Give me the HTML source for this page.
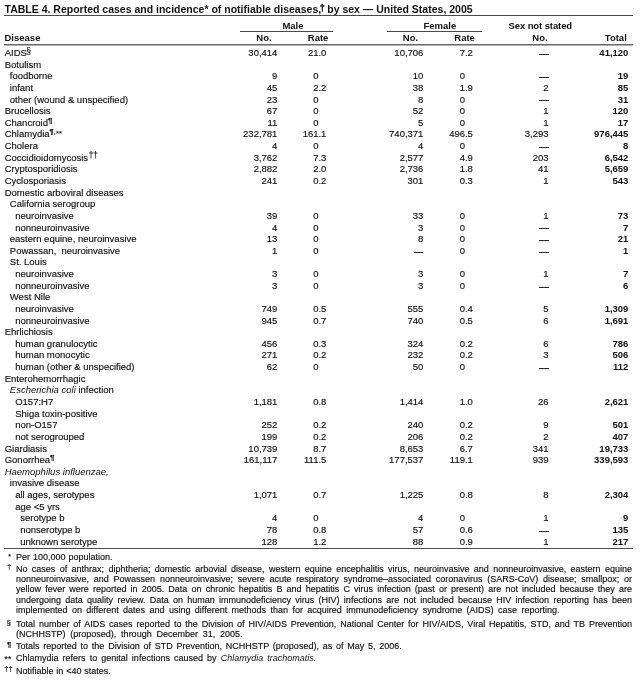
<!DOCTYPE html>
<html><head><meta charset="utf-8"><style>
html,body{margin:0;padding:0;background:#fff;}
body{width:640px;height:680px;position:relative;overflow:hidden;font-family:"Liberation Sans",sans-serif;color:#111;filter:blur(0.3px);-webkit-text-stroke:0.15px #111;}
.t{position:absolute;white-space:nowrap;font-size:9.5px;line-height:9.5px;}
.r{text-align:right;}
.b{font-weight:bold;-webkit-text-stroke:0;}
.h{position:absolute;background:#4a4a4a;height:1px;}
.h2{position:absolute;background:#b4b4b4;height:1px;}
sup{font-size:7.6px;line-height:0;vertical-align:2.9px;}
.ss{font-size:8.4px;}
.pb{font-weight:bold;font-size:8px;}
.tt sup{font-size:8.4px;vertical-align:1.9px;margin-left:-1.1px;margin-right:-0.4px;-webkit-text-stroke:0.4px #111;}
.z{visibility:hidden;}
i{-webkit-text-stroke:0;}
.d{position:absolute;width:9.6px;height:1px;background:#2a2a2a;}
.f{position:absolute;left:16px;width:616px;font-size:9px;line-height:9px;white-space:nowrap;}
.fj{text-align:justify;text-align-last:justify;white-space:normal;}
.m{position:absolute;white-space:nowrap;}
</style></head><body>

<div class="t b tt" style="left:4.5px;top:4.01px;font-size:10.5px;line-height:10.5px">TABLE 4. Reported cases and incidence* of notifiable diseases,<sup>†</sup> by sex — United States, 2005</div>
<div class="h" style="left:4px;top:15px;width:629px"></div>
<div class="t b" style="left:282.4px;top:20.71px;font-size:9.5px;line-height:9.5px">Male</div>
<div class="t b" style="left:423.5px;top:20.71px;font-size:9.5px;line-height:9.5px">Female</div>
<div class="t b" style="left:508.5px;top:20.71px;font-size:9.5px;line-height:9.5px;letter-spacing:-0.1px">Sex not stated</div>
<div class="h" style="left:239.5px;top:31px;width:93.5px"></div>
<div class="h" style="left:386.5px;top:31px;width:95px"></div>
<div class="t b" style="left:4.5px;top:32.71px;font-size:9.5px;line-height:9.5px">Disease</div>
<div class="t b" style="left:256.3px;top:32.71px;font-size:9.5px;line-height:9.5px">No.</div>
<div class="t b" style="left:307.8px;top:32.71px;font-size:9.5px;line-height:9.5px">Rate</div>
<div class="t b" style="left:402.8px;top:32.71px;font-size:9.5px;line-height:9.5px">No.</div>
<div class="t b" style="left:454.3px;top:32.71px;font-size:9.5px;line-height:9.5px">Rate</div>
<div class="t b" style="left:532.3px;top:32.71px;font-size:9.5px;line-height:9.5px">No.</div>
<div class="t b" style="left:604.8px;top:32.71px;font-size:9.5px;line-height:9.5px">Total</div>
<div class="h" style="left:4px;top:44px;width:629px;background:#666"></div>
<div class="h2" style="left:4px;top:45px;width:629px"></div>
<div class="t" style="left:4.7px;top:48.03px">AIDS<sup class="ss" style="vertical-align:1.9px;margin-left:-0.7px">§</sup></div>
<div class="t r" style="right:362.60px;top:48.03px">30,414</div>
<div class="t r" style="right:313.60px;top:48.03px">21.0</div>
<div class="t r" style="right:216.60px;top:48.03px">10,706</div>
<div class="t r" style="right:167.10px;top:48.03px">7.2</div>
<div class="d" style="left:539.00px;top:53.87px"></div>
<div class="t r b" style="right:11.60px;top:48.03px">41,120</div>
<div class="t" style="left:4.7px;top:59.66px">Botulism</div>
<div class="t" style="left:9.8px;top:71.29px">foodborne</div>
<div class="t r" style="right:362.60px;top:71.29px">9</div>
<div class="t r" style="right:313.60px;top:71.29px">0<span class="z">.0</span></div>
<div class="t r" style="right:216.60px;top:71.29px">10</div>
<div class="t r" style="right:167.10px;top:71.29px">0<span class="z">.0</span></div>
<div class="d" style="left:539.00px;top:77.14px"></div>
<div class="t r b" style="right:11.60px;top:71.29px">19</div>
<div class="t" style="left:9.8px;top:82.93px">infant</div>
<div class="t r" style="right:362.60px;top:82.93px">45</div>
<div class="t r" style="right:313.60px;top:82.93px">2.2</div>
<div class="t r" style="right:216.60px;top:82.93px">38</div>
<div class="t r" style="right:167.10px;top:82.93px">1.9</div>
<div class="t r" style="right:91.40px;top:82.93px">2</div>
<div class="t r b" style="right:11.60px;top:82.93px">85</div>
<div class="t" style="left:9.8px;top:94.56px">other (wound &amp; unspecified)</div>
<div class="t r" style="right:362.60px;top:94.56px">23</div>
<div class="t r" style="right:313.60px;top:94.56px">0<span class="z">.0</span></div>
<div class="t r" style="right:216.60px;top:94.56px">8</div>
<div class="t r" style="right:167.10px;top:94.56px">0<span class="z">.0</span></div>
<div class="d" style="left:539.00px;top:100.40px"></div>
<div class="t r b" style="right:11.60px;top:94.56px">31</div>
<div class="t" style="left:4.7px;top:106.19px">Brucellosis</div>
<div class="t r" style="right:362.60px;top:106.19px">67</div>
<div class="t r" style="right:313.60px;top:106.19px">0<span class="z">.0</span></div>
<div class="t r" style="right:216.60px;top:106.19px">52</div>
<div class="t r" style="right:167.10px;top:106.19px">0<span class="z">.0</span></div>
<div class="t r" style="right:91.40px;top:106.19px">1</div>
<div class="t r b" style="right:11.60px;top:106.19px">120</div>
<div class="t" style="left:4.7px;top:117.82px">Chancroid<sup class="pb">¶</sup></div>
<div class="t r" style="right:362.60px;top:117.82px">11</div>
<div class="t r" style="right:313.60px;top:117.82px">0<span class="z">.0</span></div>
<div class="t r" style="right:216.60px;top:117.82px">5</div>
<div class="t r" style="right:167.10px;top:117.82px">0<span class="z">.0</span></div>
<div class="t r" style="right:91.40px;top:117.82px">1</div>
<div class="t r b" style="right:11.60px;top:117.82px">17</div>
<div class="t" style="left:4.7px;top:129.46px">Chlamydia<sup><b>¶</b>,<span style="position:relative;top:1.3px">**</span></sup></div>
<div class="t r" style="right:362.60px;top:129.46px">232,781</div>
<div class="t r" style="right:313.60px;top:129.46px">161.1</div>
<div class="t r" style="right:216.60px;top:129.46px">740,371</div>
<div class="t r" style="right:167.10px;top:129.46px">496.5</div>
<div class="t r" style="right:91.40px;top:129.46px">3,293</div>
<div class="t r b" style="right:11.60px;top:129.46px">976,445</div>
<div class="t" style="left:4.7px;top:141.09px">Cholera</div>
<div class="t r" style="right:362.60px;top:141.09px">4</div>
<div class="t r" style="right:313.60px;top:141.09px">0<span class="z">.0</span></div>
<div class="t r" style="right:216.60px;top:141.09px">4</div>
<div class="t r" style="right:167.10px;top:141.09px">0<span class="z">.0</span></div>
<div class="d" style="left:539.00px;top:146.93px"></div>
<div class="t r b" style="right:11.60px;top:141.09px">8</div>
<div class="t" style="left:4.7px;top:152.72px">Coccidioidomycosis<sup style="font-size:8.2px;margin-left:0.7px">††</sup></div>
<div class="t r" style="right:362.60px;top:152.72px">3,762</div>
<div class="t r" style="right:313.60px;top:152.72px">7.3</div>
<div class="t r" style="right:216.60px;top:152.72px">2,577</div>
<div class="t r" style="right:167.10px;top:152.72px">4.9</div>
<div class="t r" style="right:91.40px;top:152.72px">203</div>
<div class="t r b" style="right:11.60px;top:152.72px">6,542</div>
<div class="t" style="left:4.7px;top:164.35px">Cryptosporidiosis</div>
<div class="t r" style="right:362.60px;top:164.35px">2,882</div>
<div class="t r" style="right:313.60px;top:164.35px">2.0</div>
<div class="t r" style="right:216.60px;top:164.35px">2,736</div>
<div class="t r" style="right:167.10px;top:164.35px">1.8</div>
<div class="t r" style="right:91.40px;top:164.35px">41</div>
<div class="t r b" style="right:11.60px;top:164.35px">5,659</div>
<div class="t" style="left:4.7px;top:175.99px">Cyclosporiasis</div>
<div class="t r" style="right:362.60px;top:175.99px">241</div>
<div class="t r" style="right:313.60px;top:175.99px">0.2</div>
<div class="t r" style="right:216.60px;top:175.99px">301</div>
<div class="t r" style="right:167.10px;top:175.99px">0.3</div>
<div class="t r" style="right:91.40px;top:175.99px">1</div>
<div class="t r b" style="right:11.60px;top:175.99px">543</div>
<div class="t" style="left:4.7px;top:187.62px">Domestic arboviral diseases</div>
<div class="t" style="left:9.8px;top:199.25px">California serogroup</div>
<div class="t" style="left:15.2px;top:210.88px">neuroinvasive</div>
<div class="t r" style="right:362.60px;top:210.88px">39</div>
<div class="t r" style="right:313.60px;top:210.88px">0<span class="z">.0</span></div>
<div class="t r" style="right:216.60px;top:210.88px">33</div>
<div class="t r" style="right:167.10px;top:210.88px">0<span class="z">.0</span></div>
<div class="t r" style="right:91.40px;top:210.88px">1</div>
<div class="t r b" style="right:11.60px;top:210.88px">73</div>
<div class="t" style="left:15.2px;top:222.52px">nonneuroinvasive</div>
<div class="t r" style="right:362.60px;top:222.52px">4</div>
<div class="t r" style="right:313.60px;top:222.52px">0<span class="z">.0</span></div>
<div class="t r" style="right:216.60px;top:222.52px">3</div>
<div class="t r" style="right:167.10px;top:222.52px">0<span class="z">.0</span></div>
<div class="d" style="left:539.00px;top:228.36px"></div>
<div class="t r b" style="right:11.60px;top:222.52px">7</div>
<div class="t" style="left:9.8px;top:234.15px">eastern equine, neuroinvasive</div>
<div class="t r" style="right:362.60px;top:234.15px">13</div>
<div class="t r" style="right:313.60px;top:234.15px">0<span class="z">.0</span></div>
<div class="t r" style="right:216.60px;top:234.15px">8</div>
<div class="t r" style="right:167.10px;top:234.15px">0<span class="z">.0</span></div>
<div class="d" style="left:539.00px;top:239.99px"></div>
<div class="t r b" style="right:11.60px;top:234.15px">21</div>
<div class="t" style="left:9.8px;top:245.78px">Powassan,<span style="margin-left:2.5px"> </span>neuroinvasive</div>
<div class="t r" style="right:362.60px;top:245.78px">1</div>
<div class="t r" style="right:313.60px;top:245.78px">0<span class="z">.0</span></div>
<div class="d" style="left:413.80px;top:251.62px"></div>
<div class="t r" style="right:167.10px;top:245.78px">0<span class="z">.0</span></div>
<div class="d" style="left:539.00px;top:251.62px"></div>
<div class="t r b" style="right:11.60px;top:245.78px">1</div>
<div class="t" style="left:9.8px;top:257.41px">St. Louis</div>
<div class="t" style="left:15.2px;top:269.05px">neuroinvasive</div>
<div class="t r" style="right:362.60px;top:269.05px">3</div>
<div class="t r" style="right:313.60px;top:269.05px">0<span class="z">.0</span></div>
<div class="t r" style="right:216.60px;top:269.05px">3</div>
<div class="t r" style="right:167.10px;top:269.05px">0<span class="z">.0</span></div>
<div class="t r" style="right:91.40px;top:269.05px">1</div>
<div class="t r b" style="right:11.60px;top:269.05px">7</div>
<div class="t" style="left:15.2px;top:280.68px">nonneuroinvasive</div>
<div class="t r" style="right:362.60px;top:280.68px">3</div>
<div class="t r" style="right:313.60px;top:280.68px">0<span class="z">.0</span></div>
<div class="t r" style="right:216.60px;top:280.68px">3</div>
<div class="t r" style="right:167.10px;top:280.68px">0<span class="z">.0</span></div>
<div class="d" style="left:539.00px;top:286.52px"></div>
<div class="t r b" style="right:11.60px;top:280.68px">6</div>
<div class="t" style="left:9.8px;top:292.31px">West Nile</div>
<div class="t" style="left:15.2px;top:303.94px">neuroinvasive</div>
<div class="t r" style="right:362.60px;top:303.94px">749</div>
<div class="t r" style="right:313.60px;top:303.94px">0.5</div>
<div class="t r" style="right:216.60px;top:303.94px">555</div>
<div class="t r" style="right:167.10px;top:303.94px">0.4</div>
<div class="t r" style="right:91.40px;top:303.94px">5</div>
<div class="t r b" style="right:11.60px;top:303.94px">1,309</div>
<div class="t" style="left:15.2px;top:315.58px">nonneuroinvasive</div>
<div class="t r" style="right:362.60px;top:315.58px">945</div>
<div class="t r" style="right:313.60px;top:315.58px">0.7</div>
<div class="t r" style="right:216.60px;top:315.58px">740</div>
<div class="t r" style="right:167.10px;top:315.58px">0.5</div>
<div class="t r" style="right:91.40px;top:315.58px">6</div>
<div class="t r b" style="right:11.60px;top:315.58px">1,691</div>
<div class="t" style="left:4.7px;top:327.21px">Ehrlichiosis</div>
<div class="t" style="left:15.2px;top:338.84px">human granulocytic</div>
<div class="t r" style="right:362.60px;top:338.84px">456</div>
<div class="t r" style="right:313.60px;top:338.84px">0.3</div>
<div class="t r" style="right:216.60px;top:338.84px">324</div>
<div class="t r" style="right:167.10px;top:338.84px">0.2</div>
<div class="t r" style="right:91.40px;top:338.84px">6</div>
<div class="t r b" style="right:11.60px;top:338.84px">786</div>
<div class="t" style="left:15.2px;top:350.47px">human monocytic</div>
<div class="t r" style="right:362.60px;top:350.47px">271</div>
<div class="t r" style="right:313.60px;top:350.47px">0.2</div>
<div class="t r" style="right:216.60px;top:350.47px">232</div>
<div class="t r" style="right:167.10px;top:350.47px">0.2</div>
<div class="t r" style="right:91.40px;top:350.47px">3</div>
<div class="t r b" style="right:11.60px;top:350.47px">506</div>
<div class="t" style="left:15.2px;top:362.11px">human (other &amp; unspecified)</div>
<div class="t r" style="right:362.60px;top:362.11px">62</div>
<div class="t r" style="right:313.60px;top:362.11px">0<span class="z">.0</span></div>
<div class="t r" style="right:216.60px;top:362.11px">50</div>
<div class="t r" style="right:167.10px;top:362.11px">0<span class="z">.0</span></div>
<div class="d" style="left:539.00px;top:367.95px"></div>
<div class="t r b" style="right:11.60px;top:362.11px">112</div>
<div class="t" style="left:4.7px;top:373.74px">Enterohemorrhagic</div>
<div class="t" style="left:9.8px;top:385.37px"><i>Escherichia coli</i> infection</div>
<div class="t" style="left:15.2px;top:397.00px">O157:H7</div>
<div class="t r" style="right:362.60px;top:397.00px">1,181</div>
<div class="t r" style="right:313.60px;top:397.00px">0.8</div>
<div class="t r" style="right:216.60px;top:397.00px">1,414</div>
<div class="t r" style="right:167.10px;top:397.00px">1.0</div>
<div class="t r" style="right:91.40px;top:397.00px">26</div>
<div class="t r b" style="right:11.60px;top:397.00px">2,621</div>
<div class="t" style="left:15.2px;top:408.64px">Shiga toxin-positive</div>
<div class="t" style="left:15.2px;top:420.27px">non-O157</div>
<div class="t r" style="right:362.60px;top:420.27px">252</div>
<div class="t r" style="right:313.60px;top:420.27px">0.2</div>
<div class="t r" style="right:216.60px;top:420.27px">240</div>
<div class="t r" style="right:167.10px;top:420.27px">0.2</div>
<div class="t r" style="right:91.40px;top:420.27px">9</div>
<div class="t r b" style="right:11.60px;top:420.27px">501</div>
<div class="t" style="left:15.2px;top:431.90px">not serogrouped</div>
<div class="t r" style="right:362.60px;top:431.90px">199</div>
<div class="t r" style="right:313.60px;top:431.90px">0.2</div>
<div class="t r" style="right:216.60px;top:431.90px">206</div>
<div class="t r" style="right:167.10px;top:431.90px">0.2</div>
<div class="t r" style="right:91.40px;top:431.90px">2</div>
<div class="t r b" style="right:11.60px;top:431.90px">407</div>
<div class="t" style="left:4.7px;top:443.53px">Giardiasis</div>
<div class="t r" style="right:362.60px;top:443.53px">10,739</div>
<div class="t r" style="right:313.60px;top:443.53px">8.7</div>
<div class="t r" style="right:216.60px;top:443.53px">8,653</div>
<div class="t r" style="right:167.10px;top:443.53px">6.7</div>
<div class="t r" style="right:91.40px;top:443.53px">341</div>
<div class="t r b" style="right:11.60px;top:443.53px">19,733</div>
<div class="t" style="left:4.7px;top:455.17px">Gonorrhea<sup class="pb">¶</sup></div>
<div class="t r" style="right:362.60px;top:455.17px">161,117</div>
<div class="t r" style="right:313.60px;top:455.17px">111.5</div>
<div class="t r" style="right:216.60px;top:455.17px">177,537</div>
<div class="t r" style="right:167.10px;top:455.17px">119.1</div>
<div class="t r" style="right:91.40px;top:455.17px">939</div>
<div class="t r b" style="right:11.60px;top:455.17px">339,593</div>
<div class="t" style="left:4.7px;top:466.80px"><i>Haemophilus influenzae,</i></div>
<div class="t" style="left:9.8px;top:478.43px">invasive disease</div>
<div class="t" style="left:15.2px;top:490.06px">all ages, serotypes</div>
<div class="t r" style="right:362.60px;top:490.06px">1,071</div>
<div class="t r" style="right:313.60px;top:490.06px">0.7</div>
<div class="t r" style="right:216.60px;top:490.06px">1,225</div>
<div class="t r" style="right:167.10px;top:490.06px">0.8</div>
<div class="t r" style="right:91.40px;top:490.06px">8</div>
<div class="t r b" style="right:11.60px;top:490.06px">2,304</div>
<div class="t" style="left:15.2px;top:501.70px">age &lt;5 yrs</div>
<div class="t" style="left:20.2px;top:513.33px">serotype b</div>
<div class="t r" style="right:362.60px;top:513.33px">4</div>
<div class="t r" style="right:313.60px;top:513.33px">0<span class="z">.0</span></div>
<div class="t r" style="right:216.60px;top:513.33px">4</div>
<div class="t r" style="right:167.10px;top:513.33px">0<span class="z">.0</span></div>
<div class="t r" style="right:91.40px;top:513.33px">1</div>
<div class="t r b" style="right:11.60px;top:513.33px">9</div>
<div class="t" style="left:20.2px;top:524.96px">nonserotype b</div>
<div class="t r" style="right:362.60px;top:524.96px">78</div>
<div class="t r" style="right:313.60px;top:524.96px">0.8</div>
<div class="t r" style="right:216.60px;top:524.96px">57</div>
<div class="t r" style="right:167.10px;top:524.96px">0.6</div>
<div class="d" style="left:539.00px;top:530.80px"></div>
<div class="t r b" style="right:11.60px;top:524.96px">135</div>
<div class="t" style="left:20.2px;top:536.59px">unknown serotype</div>
<div class="t r" style="right:362.60px;top:536.59px">128</div>
<div class="t r" style="right:313.60px;top:536.59px">1.2</div>
<div class="t r" style="right:216.60px;top:536.59px">88</div>
<div class="t r" style="right:167.10px;top:536.59px">0.9</div>
<div class="t r" style="right:91.40px;top:536.59px">1</div>
<div class="t r b" style="right:11.60px;top:536.59px">217</div>
<div class="h" style="left:4px;top:548px;width:629px"></div>
<div class="m" style="left:8.3px;top:552.57px;font-size:7.0px;line-height:7.0px">*</div>
<div class="f" style="top:552.88px;word-spacing:0.5px">Per 100,000 population.</div>
<div class="m" style="left:7.3px;top:563.47px;font-size:7.0px;line-height:7.0px">†</div>
<div class="f fj" style="top:564.78px">No cases of anthrax; diphtheria; domestic arbovial disease, western equine encephalitis virus, neuroinvasive and nonneuroinvasive, eastern equine</div>
<div class="f fj" style="top:575.18px">nonneuroinvasive, and Powassen nonneuroinvasive; severe acute respiratory syndrome–associated coronavirus (SARS-CoV) disease; smallpox; or</div>
<div class="f fj" style="top:585.48px">yellow fever were reported in 2005. Data on chronic hepatitis B and hepatitis C virus infection (past or present) are not included because they are</div>
<div class="f fj" style="top:595.78px">undergoing data quality review. Data on human immunodeficiency virus (HIV) infections are not included because HIV infection reporting has been</div>
<div class="f" style="top:606.08px;word-spacing:1.9px">implemented on different dates and using different methods than for acquired immunodeficiency syndrome (AIDS) case reporting.</div>
<div class="m" style="left:6.6px;top:618.73px;font-size:8.0px;line-height:8.0px">§</div>
<div class="f fj" style="top:619.68px">Total number of AIDS cases reported to the Division of HIV/AIDS Prevention, National Center for HIV/AIDS, Viral Hepatitis, STD, and TB Prevention</div>
<div class="f" style="top:629.78px;word-spacing:2.3px">(NCHHSTP) (proposed), through December 31, 2005.</div>
<div class="m" style="left:6.9px;top:641.47px;font-size:7.6px;line-height:7.6px"><b>¶</b></div>
<div class="f" style="top:642.08px;word-spacing:1.27px">Totals reported to the Division of STD Prevention, NCHHSTP (proposed), as of May 5, 2006.</div>
<div class="m" style="left:4.6px;top:654.62px;font-size:8.6px;line-height:8.6px">**</div>
<div class="f" style="top:654.28px;word-spacing:1.58px">Chlamydia refers to genital infections caused by <i>Chlamydia trachomatis.</i></div>
<div class="m" style="left:4.3px;top:665.47px;font-size:7.6px;line-height:7.6px">††</div>
<div class="f" style="top:667.28px;word-spacing:0.33px">Notifiable in &lt;40 states.</div>
</body></html>
